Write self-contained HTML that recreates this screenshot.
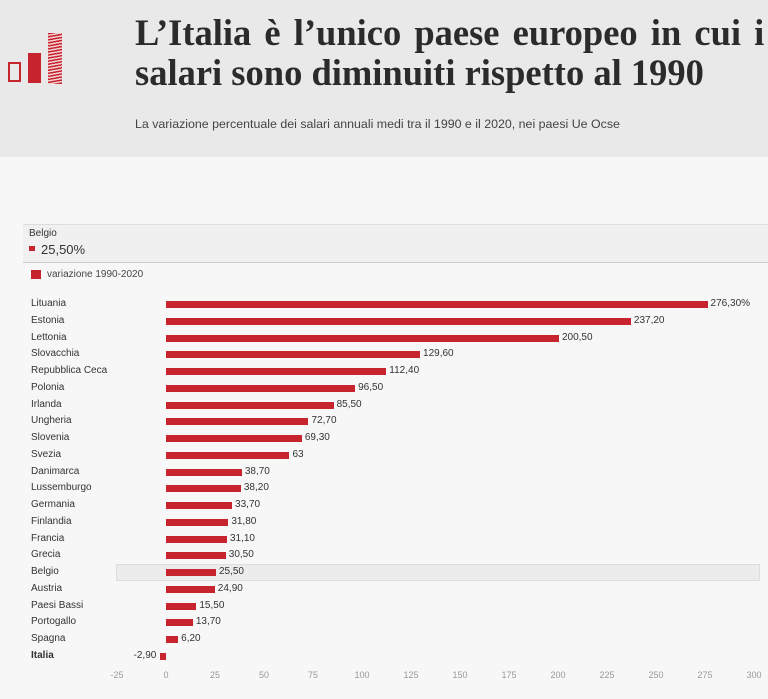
<!DOCTYPE html>
<html><head><meta charset="utf-8"><style>
body{margin:0;width:768px;height:699px;background:#f7f7f7;font-family:"Liberation Sans",sans-serif;position:relative;overflow:hidden}
.hdr{position:absolute;left:0;top:0;width:768px;height:157px;background:#e9e9e9}
.t{position:absolute;left:135px;top:13px;font:bold 36.5px/40px "Liberation Serif",serif;color:#2b2b2b;white-space:nowrap}
.s{position:absolute;left:135px;top:117px;font-size:12.4px;color:#444;white-space:nowrap}
.lab{position:absolute;left:31px;font-size:10px;color:#333}
.bar{position:absolute;height:7px;background:#c8242f}
.val{position:absolute;font-size:10px;color:#333}
.tick{position:absolute;top:670px;font-size:9px;color:#999;width:30px;text-align:center}
</style></head><body>
<div class="hdr">
<div style="position:absolute;left:8px;top:62px;width:9px;height:16px;border:2px solid #c8242f"></div>
<div style="position:absolute;left:28px;top:53px;width:13px;height:30px;background:#c8242f"></div>
<div style="position:absolute;left:48px;top:33px;width:14px;height:51px;background:repeating-linear-gradient(170deg,#c8242f 0 1.5px,#f0d0d0 1.5px 3px)"></div>
<div class="t"><span style="word-spacing:4px">L’Italia è l’unico paese europeo in cui i</span><br>salari sono diminuiti rispetto al 1990</div>
<div class="s">La variazione percentuale dei salari annuali medi tra il 1990 e il 2020, nei paesi Ue Ocse</div>
</div>
<div style="position:absolute;left:23px;top:224px;width:745px;height:37px;background:#f0f0f0;border-top:1px solid #ddd;border-bottom:1px solid #ccc"></div>
<div style="position:absolute;left:29px;top:228px;font-size:10px;color:#333">Belgio</div>
<div style="position:absolute;left:29px;top:246px;width:6px;height:5px;background:#c8242f"></div>
<div style="position:absolute;left:41px;top:242px;font-size:13px;color:#333">25,50%</div>
<div style="position:absolute;left:31px;top:270px;width:10px;height:9px;background:#c8242f"></div>
<div style="position:absolute;left:47px;top:269px;font-size:10px;color:#444">variazione 1990-2020</div>
<div style="position:absolute;left:116px;top:564px;width:644px;height:17px;background:#ececec;border:1px solid #ddd;box-sizing:border-box"></div>
<div id="c"></div>
<script>
var d=[["Lituania",276.3,"276,30%"],["Estonia",237.2,"237,20"],["Lettonia",200.5,"200,50"],["Slovacchia",129.6,"129,60"],["Repubblica Ceca",112.4,"112,40"],["Polonia",96.5,"96,50"],["Irlanda",85.5,"85,50"],["Ungheria",72.7,"72,70"],["Slovenia",69.3,"69,30"],["Svezia",63,"63"],["Danimarca",38.7,"38,70"],["Lussemburgo",38.2,"38,20"],["Germania",33.7,"33,70"],["Finlandia",31.8,"31,80"],["Francia",31.1,"31,10"],["Grecia",30.5,"30,50"],["Belgio",25.5,"25,50"],["Austria",24.9,"24,90"],["Paesi Bassi",15.5,"15,50"],["Portogallo",13.7,"13,70"],["Spagna",6.2,"6,20"],["Italia",-2.9,"-2,90"]];
var z=166,k=1.96,h="";
d.forEach(function(r,i){var y=304+i*16.76;
h+='<div class="lab" style="top:'+(y-6)+'px;'+(r[0]=="Italia"?'font-weight:bold':'')+'">'+r[0]+'</div>';
var w=Math.abs(r[1])*k,x=r[1]<0?z-w:z;
h+='<div class="bar" style="left:'+x+'px;top:'+(y-3)+'px;width:'+w+'px"></div>';
if(r[1]<0)h+='<div class="val" style="right:'+(768-x+4)+'px;top:'+(y-6)+'px">'+r[2]+'</div>';
else h+='<div class="val" style="left:'+(x+w+3)+'px;top:'+(y-6)+'px">'+r[2]+'</div>';});
for(var t=-25;t<=300;t+=25)h+='<div class="tick" style="left:'+(z+t*k-15)+'px">'+t+'</div>';
document.getElementById("c").innerHTML=h;
</script>
</body></html>
